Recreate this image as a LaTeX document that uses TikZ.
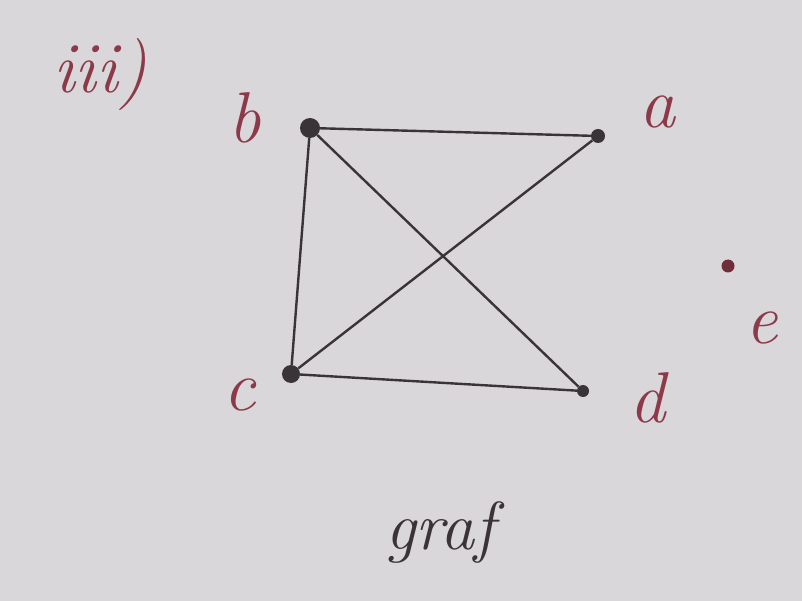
\documentclass[tikz,border=0pt]{standalone}
\usepackage{xcolor}
\definecolor{paper}{HTML}{D9D7DA}
\definecolor{ink}{HTML}{3A3438}
\definecolor{redink}{HTML}{8C3A4A}
\begin{document}
\begin{tikzpicture}[x=1pt,y=-1pt,
  vtx/.style={circle,fill=ink,inner sep=0pt,minimum size=16pt},
  lbl/.style={text=redink,font=\fontsize{72}{72}\selectfont\itshape},
  edge/.style={draw=ink,line width=2.4pt}]
\fill[paper] (0,0) rectangle (802,601);
\useasboundingbox (0,0) rectangle (802,601);
\node[vtx,minimum size=20pt] (b) at (310,128) {};
\node[vtx,minimum size=14pt] (a) at (598,136) {};
\node[vtx,minimum size=18pt] (c) at (291,374) {};
\node[vtx,minimum size=12pt] (d) at (583,391) {};
\node[vtx,minimum size=13pt,fill=redink!80!black] (e) at (728,266) {};
\draw[edge] (b) -- (a);
\draw[edge] (b) -- (c);
\draw[edge] (b) -- (d);
\draw[edge] (a) -- (c);
\draw[edge] (c) -- (d);
\node[lbl] (tiii) at (100,75) {iii)};
\node[lbl] (lb) at (245,118) {b};
\node[lbl] (la) at (657,112) {a};
\node[lbl] (lc) at (240,395) {c};
\node[lbl] (ld) at (647,398) {d};
\node[lbl] (le) at (762,328) {e};
\node[text=ink,font=\fontsize{68}{68}\selectfont\itshape] (graf) at (440,532) {graf};
\end{tikzpicture}
\end{document}
